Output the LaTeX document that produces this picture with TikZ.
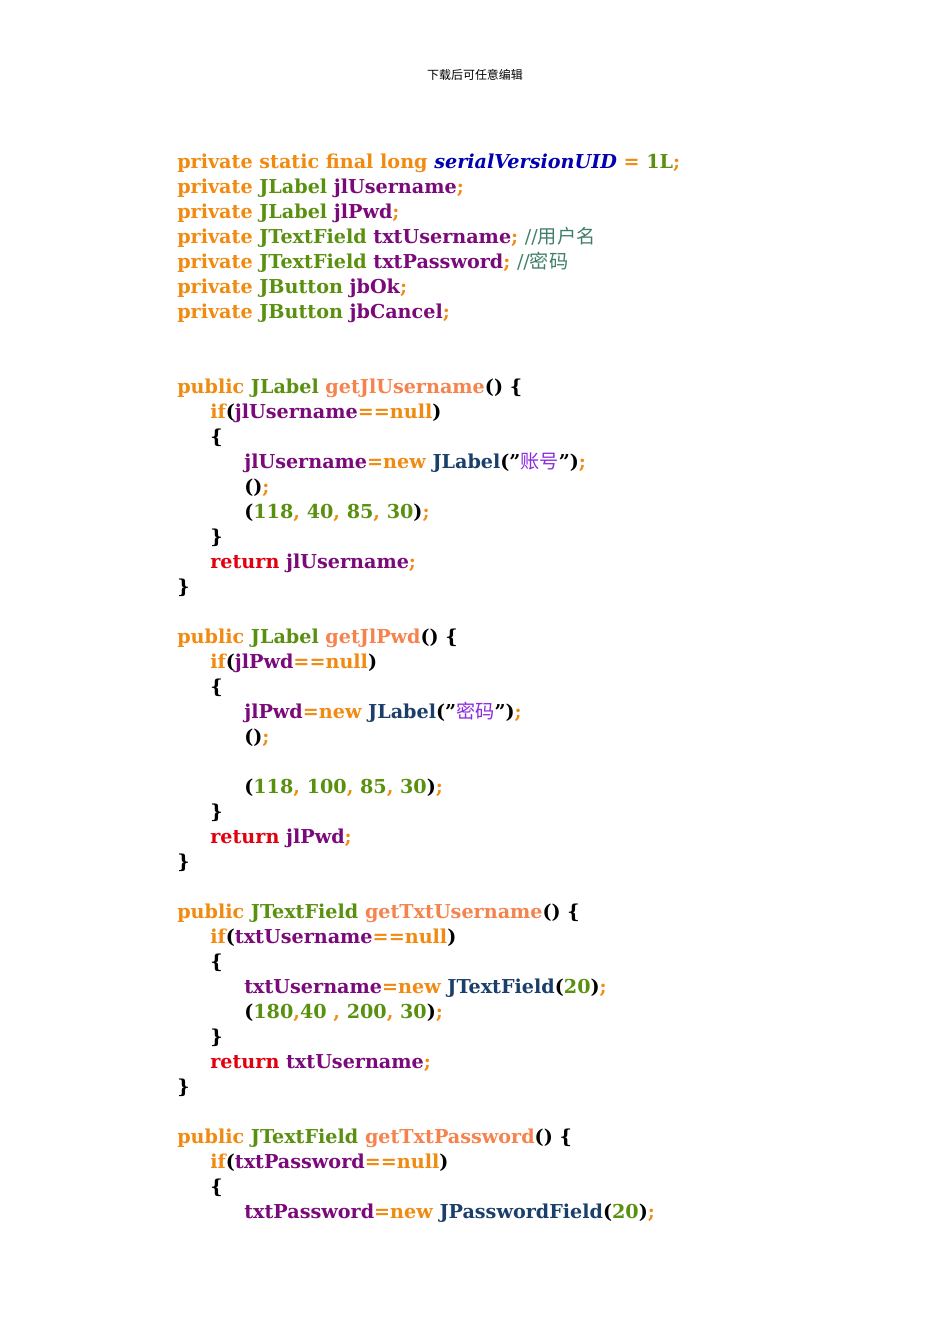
\documentclass[tikz,border=0pt]{standalone}
\usepackage{fontspec}
\setmainfont{DejaVu Serif}
\newfontfamily\cjk{Noto Sans CJK SC}
\definecolor{ckw}{HTML}{F08A10}
\definecolor{cty}{HTML}{5A9010}
\definecolor{cvar}{HTML}{7A0A7A}
\definecolor{cmeth}{HTML}{F5834D}
\definecolor{cret}{HTML}{E00010}
\definecolor{ccom}{HTML}{3F7F6A}
\definecolor{cstr}{HTML}{8A2BE2}
\definecolor{ccls}{HTML}{1A3F6A}
\definecolor{cuid}{HTML}{0000B0}
\newcommand{\Kw}[1]{\textcolor{ckw}{#1}}
\newcommand{\Ty}[1]{\textcolor{cty}{#1}}
\newcommand{\Va}[1]{\textcolor{cvar}{#1}}
\newcommand{\Me}[1]{\textcolor{cmeth}{#1}}
\newcommand{\Rt}[1]{\textcolor{cret}{#1}}
\newcommand{\Cm}[1]{\textcolor{ccom}{#1}}
\newcommand{\Sr}[1]{\textcolor{cstr}{#1}}
\newcommand{\Cs}[1]{\textcolor{ccls}{#1}}
\newcommand{\Qt}{\symbol{34}}
\begin{document}
\begin{tikzpicture}[x=0.626pt,y=-0.626pt,
  code/.style={anchor=base west,inner sep=0pt,font=\fontsize{12pt}{14pt}\selectfont\bfseries}]
\useasboundingbox (0,0) rectangle (950,1344);
\node[anchor=center,inner sep=0pt,font=\fontsize{7.5pt}{9pt}\selectfont\cjk] (hd) at (475,75) {下载后可任意编辑};
\def\a{177}\def\b{210}\def\c{244}
\node[code] (l1) at (\a,168) {\Kw{private static final long} \textcolor{cuid}{\itshape serialVersionUID} \Kw{=} \Ty{1L}\Kw{;}};
\node[code] (l2) at (\a,193) {\Kw{private} \Ty{JLabel} \Va{jlUsername}\Kw{;}};
\node[code] (l3) at (\a,218) {\Kw{private} \Ty{JLabel} \Va{jlPwd}\Kw{;}};
\node[code] (l4) at (\a,243) {\Kw{private} \Ty{JTextField} \Va{txtUsername}\Kw{;} \Cm{\mdseries //{\cjk 用户名}}};
\node[code] (l5) at (\a,268) {\Kw{private} \Ty{JTextField} \Va{txtPassword}\Kw{;} \Cm{\mdseries //{\cjk 密码}}};
\node[code] (l6) at (\a,293) {\Kw{private} \Ty{JButton} \Va{jbOk}\Kw{;}};
\node[code] (l7) at (\a,318) {\Kw{private} \Ty{JButton} \Va{jbCancel}\Kw{;}};
% method 1
\node[code] (m1) at (\a,393) {\Kw{public} \Ty{JLabel} \Me{getJlUsername}() \{};
\node[code] (m1a) at (\b,418) {\Kw{if}(\Va{jlUsername}\Kw{==null})};
\node[code] (m1b) at (\b,443) {\{};
\node[code] (m1c) at (\c,468) {\Va{jlUsername}\Kw{=new} \Cs{JLabel}(\Qt\Sr{\mdseries\cjk 账号}\Qt)\Kw{;}};
\node[code] (m1d) at (\c,493) {()\Kw{;}};
\node[code] (m1e) at (\c,518) {(\Ty{118}\Kw{,} \Ty{40}\Kw{,} \Ty{85}\Kw{,} \Ty{30})\Kw{;}};
\node[code] (m1f) at (\b,543) {\}};
\node[code] (m1g) at (\b,568) {\Rt{return} \Va{jlUsername}\Kw{;}};
\node[code] (m1h) at (\a,593) {\}};
% method 2
\node[code] (m2) at (\a,643) {\Kw{public} \Ty{JLabel} \Me{getJlPwd}() \{};
\node[code] (m2a) at (\b,668) {\Kw{if}(\Va{jlPwd}\Kw{==null})};
\node[code] (m2b) at (\b,693) {\{};
\node[code] (m2c) at (\c,718) {\Va{jlPwd}\Kw{=new} \Cs{JLabel}(\Qt\Sr{\mdseries\cjk 密码}\Qt)\Kw{;}};
\node[code] (m2d) at (\c,743) {()\Kw{;}};
\node[code] (m2e) at (\c,793) {(\Ty{118}\Kw{,} \Ty{100}\Kw{,} \Ty{85}\Kw{,} \Ty{30})\Kw{;}};
\node[code] (m2f) at (\b,818) {\}};
\node[code] (m2g) at (\b,843) {\Rt{return} \Va{jlPwd}\Kw{;}};
\node[code] (m2h) at (\a,868) {\}};
% method 3
\node[code] (m3) at (\a,918) {\Kw{public} \Ty{JTextField} \Me{getTxtUsername}() \{};
\node[code] (m3a) at (\b,943) {\Kw{if}(\Va{txtUsername}\Kw{==null})};
\node[code] (m3b) at (\b,968) {\{};
\node[code] (m3c) at (\c,993) {\Va{txtUsername}\Kw{=new} \Cs{JTextField}(\Ty{20})\Kw{;}};
\node[code] (m3d) at (\c,1018) {(\Ty{180}\Kw{,}\Ty{40} \Kw{,} \Ty{200}\Kw{,} \Ty{30})\Kw{;}};
\node[code] (m3f) at (\b,1043) {\}};
\node[code] (m3g) at (\b,1068) {\Rt{return} \Va{txtUsername}\Kw{;}};
\node[code] (m3h) at (\a,1093) {\}};
% method 4
\node[code] (m4) at (\a,1143) {\Kw{public} \Ty{JTextField} \Me{getTxtPassword}() \{};
\node[code] (m4a) at (\b,1168) {\Kw{if}(\Va{txtPassword}\Kw{==null})};
\node[code] (m4b) at (\b,1193) {\{};
\node[code] (m4c) at (\c,1218) {\Va{txtPassword}\Kw{=new} \Cs{JPasswordField}(\Ty{20})\Kw{;}};
\end{tikzpicture}
\end{document}
